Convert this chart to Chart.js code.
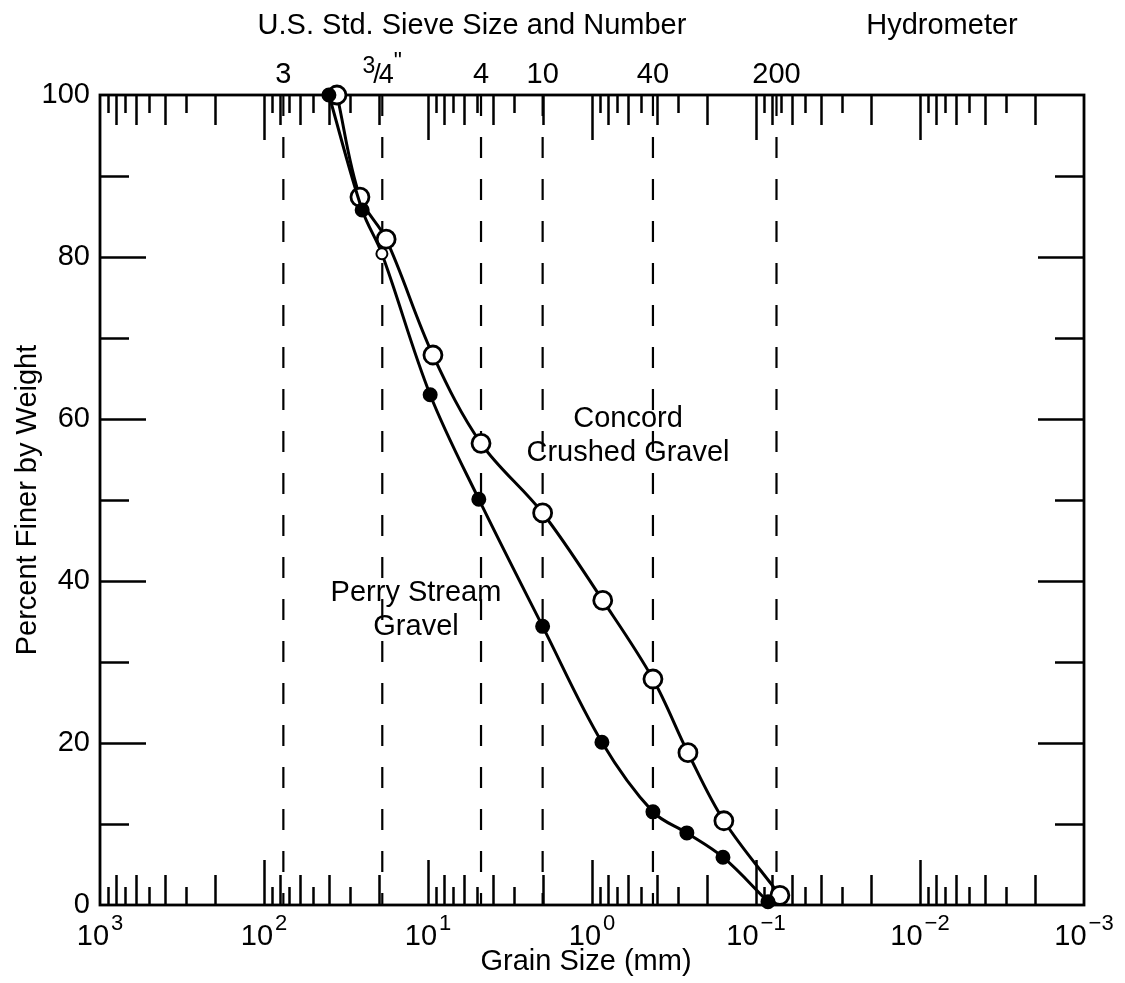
<!DOCTYPE html>
<html>
<head>
<meta charset="utf-8">
<script src="https://cdn.jsdelivr.net/npm/chart.js@4.4.1/dist/chart.umd.min.js"></script>
<style>
  html, body { margin: 0; padding: 0; background: #fff; }
</style>
</head>
<body>
<canvas id="grain-size" width="1125" height="983"></canvas>
<script>
// grain size (mm) and percent finer
const perrySize = [40.2, 25.2, 19.1, 9.7, 4.9, 2.0, 0.87, 0.425, 0.264, 0.159, 0.0845];
const perryFiner = [100, 85.8, 80.4, 63.0, 50.1, 34.4, 20.1, 11.5, 8.9, 5.9, 0.4];
const concordSize = [35.9, 26.0, 18.0, 9.33, 4.75, 2.0, 0.86, 0.425, 0.26, 0.157, 0.0715];
const concordFiner = [100, 87.4, 82.2, 67.9, 57.0, 48.4, 37.6, 27.9, 18.8, 10.4, 1.2];

// sieve openings (mm) shown as dashed lines, labelled along the top
const sieveSizes = [76.2, 19.0, 4.75, 2.0, 0.425, 0.075];
const sieveLabels = ['3', '3/4"', '4', '10', '40', '200'];

const decadeTicks = [1000, 100, 10, 1, 0.1, 0.01, 0.001];
const decadeExponents = ['3', '2', '1', '0', '−1', '−2', '−3'];
const percentTicks = [0, 20, 40, 60, 80, 100];

const FONT = "'Liberation Sans', Arial, sans-serif";

function toPoints(sizes, finer) {
    return sizes.map((s, i) => ({ x: s, y: finer[i] }));
}

// the 3/4" label is set as a stacked fraction like the printed one
function drawFraction(ctx, x, baseline) {
    ctx.font = '23px ' + FONT;
    const w3 = ctx.measureText('3').width;
    const wq = ctx.measureText('"').width;
    ctx.font = '27px ' + FONT;
    const ws = ctx.measureText('/').width;
    const w4 = ctx.measureText('4').width;
    let cx = x - (w3 + ws + w4 + wq - 4) / 2;
    ctx.textAlign = 'left';
    ctx.font = '23px ' + FONT;
    ctx.fillText('3', cx, baseline - 10);
    cx += w3 - 2;
    ctx.font = '27px ' + FONT;
    ctx.fillText('/', cx, baseline);
    cx += ws - 2;
    ctx.fillText('4', cx, baseline);
    cx += w4;
    ctx.font = '23px ' + FONT;
    ctx.fillText('"', cx, baseline - 14);
}

// frame, inward ticks, superscript labels and the free text
const axesPlugin = {
    id: 'axesPlugin',
    beforeDatasetsDraw(chart) {
        const ctx = chart.ctx;
        const area = chart.chartArea;
        const xs = chart.scales.x;
        const ys = chart.scales.y;
        ctx.save();
        ctx.strokeStyle = '#000';
        ctx.lineWidth = 2.8;
        ctx.strokeRect(area.left, area.top, area.right - area.left, area.bottom - area.top);

        ctx.lineWidth = 2.5;
        ctx.beginPath();
        for (let e = -3; e <= 2; e++) {
            for (let m = 1; m <= 9; m++) {
                const v = m * Math.pow(10, e);
                const x = Math.round(xs.getPixelForValue(v)) + 0.5;
                if (x <= area.left + 1 || x >= area.right - 1) continue;
                const len = m === 1 ? 45 : (m % 2 === 0 ? 30 : 18);
                ctx.moveTo(x, area.top);
                ctx.lineTo(x, area.top + len);
                ctx.moveTo(x, area.bottom);
                ctx.lineTo(x, area.bottom - len);
            }
        }
        for (let p = 10; p < 100; p += 10) {
            const y = Math.round(ys.getPixelForValue(p)) + 0.5;
            const len = p % 20 === 0 ? 46 : 29;
            ctx.moveTo(area.left, y);
            ctx.lineTo(area.left + len, y);
            ctx.moveTo(area.right, y);
            ctx.lineTo(area.right - len, y);
        }
        ctx.stroke();
        ctx.restore();
    },
    afterDraw(chart) {
        const ctx = chart.ctx;
        const area = chart.chartArea;
        const xs = chart.scales.x;
        ctx.save();
        ctx.fillStyle = '#000';

        // 10^n labels under the bottom axis
        ctx.textBaseline = 'alphabetic';
        decadeTicks.forEach((v, i) => {
            const x = xs.getPixelForValue(v);
            ctx.font = '29px ' + FONT;
            const wBase = ctx.measureText('10').width;
            ctx.font = '22px ' + FONT;
            const wExp = ctx.measureText(decadeExponents[i]).width;
            const start = x - (wBase + wExp + 2) / 2;
            ctx.textAlign = 'left';
            ctx.font = '29px ' + FONT;
            ctx.fillText('10', start, area.bottom + 40);
            ctx.font = '22px ' + FONT;
            ctx.fillText(decadeExponents[i], start + wBase + 2, area.bottom + 25);
        });

        // sieve numbers above the top axis
        const labelBase = area.top - 12;
        sieveSizes.forEach((s, i) => {
            const x = xs.getPixelForValue(s);
            if (sieveLabels[i] === '3/4"') {
                drawFraction(ctx, x, labelBase);
            } else {
                ctx.font = '29px ' + FONT;
                ctx.textAlign = 'center';
                ctx.fillText(sieveLabels[i], x, labelBase);
            }
        });

        ctx.font = '29px ' + FONT;
        ctx.textAlign = 'center';
        ctx.textBaseline = 'middle';
        ctx.fillText('Grain Size (mm)', 586, 962);
        ctx.fillText('U.S. Std. Sieve Size and Number', 472, 26);
        ctx.fillText('Hydrometer', 942, 26);

        ctx.fillText('Concord', 628, 419);
        ctx.fillText('Crushed Gravel', 628, 453);
        ctx.fillText('Perry Stream', 416, 593);
        ctx.fillText('Gravel', 416, 627);

        ctx.translate(28, (area.top + area.bottom) / 2);
        ctx.rotate(-Math.PI / 2);
        ctx.fillText('Percent Finer by Weight', 0, 0);
        ctx.restore();
    }
};

const sieveLines = sieveSizes.map(s => ({
    data: [{ x: s, y: 100 }, { x: s, y: 0 }],
    borderColor: '#000',
    borderWidth: 2.2,
    borderDash: [21, 21],
    pointRadius: 0,
    tension: 0
}));

const data = {
    datasets: [{
        label: 'Perry Stream Gravel',
        data: toPoints(perrySize, perryFiner),
        borderColor: '#000',
        borderWidth: 3,
        backgroundColor: '#000',
        pointBackgroundColor: perrySize.map((s, i) => i === 2 ? '#fff' : '#000'),
        pointBorderColor: '#000',
        pointBorderWidth: 2,
        pointRadius: perrySize.map((s, i) => i === 2 ? 5.5 : 6.5),
        tension: 0.35,
        clip: false
    }, {
        label: 'Concord Crushed Gravel',
        data: toPoints(concordSize, concordFiner),
        borderColor: '#000',
        borderWidth: 3,
        pointBackgroundColor: '#fff',
        pointBorderColor: '#000',
        pointBorderWidth: 2.8,
        pointRadius: 9,
        tension: 0.35,
        clip: false
    }, ...sieveLines]
};

const options = {
    responsive: false,
    animation: false,
    layout: { padding: { left: 0, right: 41, top: 95, bottom: 0 } },
    plugins: {
        legend: { display: false },
        tooltip: { enabled: false }
    },
    scales: {
        x: {
            type: 'logarithmic',
            position: 'bottom',
            reverse: true,
            min: 0.001,
            max: 1000,
            grid: { display: false },
            border: { display: false },
            ticks: { display: false },
            afterFit(scale) { scale.height = 78; }
        },
        y: {
            type: 'linear',
            min: 0,
            max: 100,
            grid: { display: false, drawTicks: false },
            border: { display: false },
            afterBuildTicks(scale) {
                scale.ticks = percentTicks.map(v => ({ value: v }));
            },
            ticks: {
                padding: 10,
                color: '#000',
                font: { family: FONT, size: 29 }
            },
            afterFit(scale) { scale.width = 100; }
        }
    }
};

const grainChart = new Chart(document.querySelector('#grain-size'), {
    type: 'line',
    data,
    options,
    plugins: [axesPlugin]
});
</script>
</body>
</html>
